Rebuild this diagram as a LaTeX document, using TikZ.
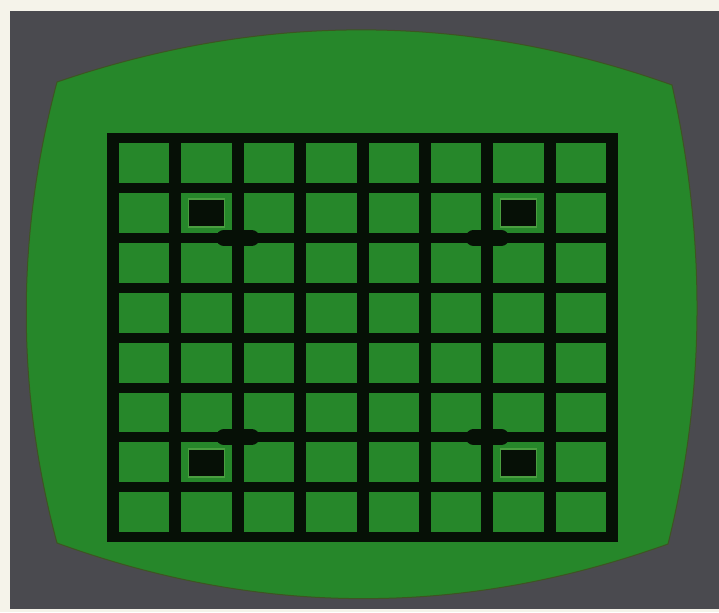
\documentclass[tikz,border=0pt]{standalone}
\usepackage{tikz}
\usepackage{xcolor}
\definecolor{paper}{HTML}{F5F3EA}
\definecolor{cabinet}{HTML}{4A4A4F}
\definecolor{screen}{HTML}{26872A}
\definecolor{screenedge}{HTML}{3E5422}
\definecolor{ink}{HTML}{061006}
\definecolor{glow}{HTML}{4A9E40}

\begin{document}
\begin{tikzpicture}[x=0.05cm, y=-0.05cm,
    vline/.style={ink, line width=0.6cm},
    hline/.style={ink, line width=0.5cm},
    blip/.style={ink, line width=0.78cm, line cap=round},
    target/.style={fill=ink, draw=glow, line width=0.08cm}]
    \useasboundingbox (0,0) rectangle (719,612);

    % Paper and cabinet
    \fill[paper] (0,0) rectangle (719,612);
    \fill[cabinet] (10,11) rectangle (719,609);

    % Screen
    \filldraw[fill=screen, draw=screenedge, line width=0.05cm]
        (57,82) .. controls (262,12) and (467,12) .. (672,85)
        .. controls (706,238) and (706,391) .. (668,544)
        .. controls (464,617) and (261,617) .. (57,543)
        .. controls (16,389) and (16,236) .. cycle;

    % Grid
    \foreach \i in {0,...,8}
        \draw[vline] ({113+62.4*\i},133) -- ({113+62.4*\i},542);
    \foreach \j in {0,...,8}
        \draw[hline] (107,{138+49.9*\j}) -- (618,{138+49.9*\j});

    % Targets
    \foreach \cx/\cy in {206.6/213, 518.6/213, 206.6/463, 518.6/463}
        \filldraw[target] ({\cx-18},{\cy-14}) rectangle ({\cx+18},{\cy+14});

    % Blips on the crossings
    \foreach \mx/\my in {237.8/238, 487.4/238, 237.8/437, 487.4/437}
        \draw[blip] ({\mx-14},\my) -- ({\mx+14},\my);
\end{tikzpicture}
\end{document}
